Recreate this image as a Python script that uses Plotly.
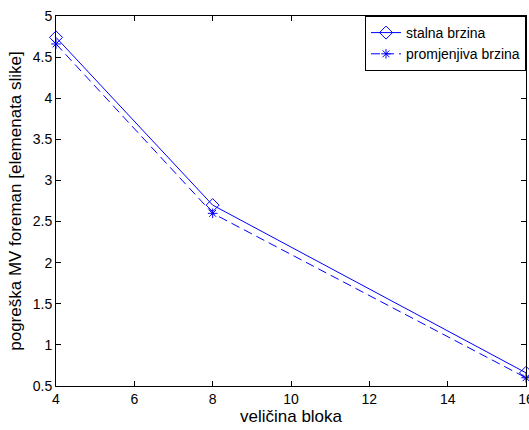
import plotly.graph_objects as go

block_size = [4, 8, 16]
stalna = [4.74, 2.70, 0.66]
promjenjiva = [4.66, 2.60, 0.60]
x_ticks = [4, 6, 8, 10, 12, 14, 16]
y_ticks = [0.5, 1, 1.5, 2, 2.5, 3, 3.5, 4, 4.5, 5]

FONT = "Liberation Sans, Arial"

fig = go.Figure()
fig.add_trace(go.Scatter(
    x=block_size, y=stalna, mode="lines+markers", name="stalna brzina",
    line=dict(color="#0000ff", width=1),
    marker=dict(symbol="diamond-open", size=10, color="#0000ff", line=dict(width=1, color="#0000ff")),
    cliponaxis=False,
))
fig.add_trace(go.Scatter(
    x=block_size, y=promjenjiva, mode="lines+markers", name="promjenjiva brzina",
    line=dict(color="#0000ff", width=1, dash="9px,5px"),
    marker=dict(symbol="asterisk-open", size=8, color="#0000ff", line=dict(width=1, color="#0000ff")),
    cliponaxis=False,
))

axis_common = dict(
    showline=True, linecolor="black", linewidth=1, mirror="ticks",
    ticks="inside", ticklen=5, tickcolor="black", showgrid=False, zeroline=False,
    automargin=False, ticklabeloverflow="allow",
    tickfont=dict(family=FONT, size=14, color="black"),
)
fig.update_xaxes(range=[4, 16], tickvals=x_ticks, ticktext=[str(v) for v in x_ticks],
                 title=dict(text="veličina bloka", font=dict(family=FONT, size=17, color="black"), standoff=4),
                 **axis_common)
fig.update_yaxes(range=[0.5, 5], tickvals=y_ticks, ticktext=[("%g" % v) for v in y_ticks],
                 title=dict(text="pogreška MV foreman [elemenata slike]", font=dict(family=FONT, size=17, color="black"), standoff=6),
                 **axis_common)
fig.update_layout(
    width=529, height=430,
    margin=dict(l=56, r=3, t=16, b=44, autoexpand=False),
    paper_bgcolor="white", plot_bgcolor="white",
    showlegend=True,
    legend=dict(x=1, y=1, xanchor="right", yanchor="top", bgcolor="white",
                bordercolor="black", borderwidth=1,
                font=dict(family=FONT, size=14, color="black"),
                tracegroupgap=0, itemwidth=30),
)
fig.write_html("out.html", config={"displayModeBar": False},
               post_script="document.body.style.margin='0';document.body.style.overflow='hidden';")
